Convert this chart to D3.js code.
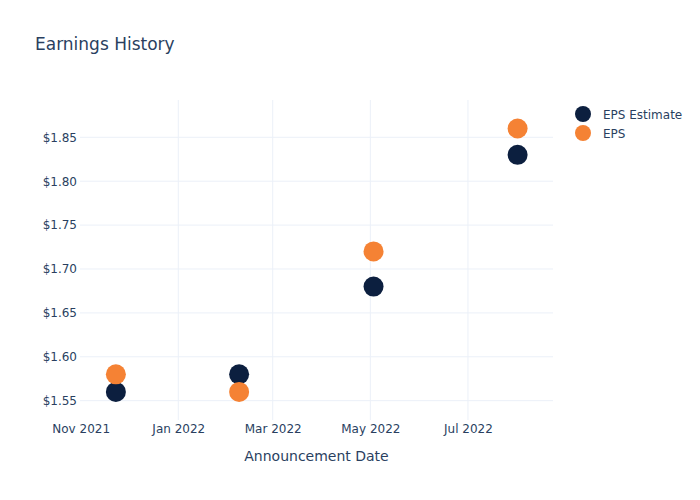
<!DOCTYPE html>
<html>
<head>
<meta charset="utf-8">
<script src="https://cdn.jsdelivr.net/npm/d3@7"></script>
<style>
  body { margin: 0; background: #fff; }
  svg text { font-family: "DejaVu Sans", Verdana, sans-serif; fill: #2a3f5f; }
</style>
</head>
<body>
<svg id="chart"></svg>
<script>
// data
const dates = ["2021-11-23", "2022-02-08", "2022-05-03", "2022-08-01"];
const epsEstimate = [1.56, 1.58, 1.68, 1.83];
const eps = [1.58, 1.56, 1.72, 1.86];
const yTicks = [1.55, 1.60, 1.65, 1.70, 1.75, 1.80, 1.85];
const xTicks = ["2021-11-01", "2022-01-01", "2022-03-01", "2022-05-01", "2022-07-01"];
const seriesNames = ["EPS Estimate", "EPS"];
const colors = ["#0c1f3f", "#f58234"];

const width = 700;
const height = 500;
const margin = {top: 100, right: 147, bottom: 80, left: 80};
const inWidth = width - margin.left - margin.right;
const inHeight = height - margin.top - margin.bottom;

const parse = d3.timeParse("%Y-%m-%d");

const svg = d3.select("#chart")
    .attr("width", width)
    .attr("height", height);

const g = svg.append("g")
    .attr("transform", `translate(${margin.left},${margin.top})`);

const x = d3.scaleTime()
    .domain([new Date(2021, 9, 31, 14), new Date(2022, 7, 23, 3)])
    .range([0, inWidth]);

const y = d3.scaleLinear()
    .domain([1.528, 1.8925])
    .range([inHeight, 0]);

// grid lines
g.selectAll(".ygrid")
    .data(yTicks)
    .enter().append("line")
    .attr("x1", 0)
    .attr("x2", inWidth)
    .attr("y1", d => y(d))
    .attr("y2", d => y(d))
    .attr("stroke", "#ebf0f8")
    .attr("stroke-width", 1);

g.selectAll(".xgrid")
    .data(xTicks.slice(1))
    .enter().append("line")
    .attr("x1", d => x(parse(d)))
    .attr("x2", d => x(parse(d)))
    .attr("y1", 0)
    .attr("y2", inHeight)
    .attr("stroke", "#ebf0f8")
    .attr("stroke-width", 1);

// axes
const xAxis = g.append("g")
    .attr("transform", `translate(0,${inHeight})`)
    .call(d3.axisBottom(x)
        .tickValues(xTicks.map(parse))
        .tickFormat(d3.timeFormat("%b %Y"))
        .tickSize(0)
        .tickPadding(4));
xAxis.select(".domain").remove();
xAxis.selectAll("text")
    .style("font-size", "12px")
    .attr("fill", "#2a3f5f");

const yAxis = g.append("g")
    .call(d3.axisLeft(y)
        .tickValues(yTicks)
        .tickFormat(d => "$" + d3.format(".2f")(d))
        .tickSize(0)
        .tickPadding(3));
yAxis.select(".domain").remove();
yAxis.selectAll("text")
    .style("font-size", "12px")
    .attr("fill", "#2a3f5f");

// markers
const series = [epsEstimate, eps];
series.forEach((vals, i) => {
    g.append("g")
        .selectAll("circle")
        .data(vals.map((v, j) => ({date: parse(dates[j]), value: v})))
        .enter().append("circle")
        .attr("cx", d => x(d.date))
        .attr("cy", d => y(d.value))
        .attr("r", 10)
        .attr("fill", colors[i]);
});

// title
svg.append("text")
    .attr("x", 35)
    .attr("y", 50)
    .style("font-size", "17px")
    .text("Earnings History");

// x-axis label
svg.append("text")
    .attr("x", margin.left + inWidth / 2)
    .attr("y", 461)
    .attr("text-anchor", "middle")
    .style("font-size", "14px")
    .text("Announcement Date");

// legend
const legend = svg.append("g")
    .attr("transform", "translate(583,114)");
seriesNames.forEach((name, i) => {
    const row = legend.append("g")
        .attr("transform", `translate(0,${i * 19})`);
    row.append("circle")
        .attr("r", 8)
        .attr("fill", colors[i]);
    row.append("text")
        .attr("x", 20)
        .attr("y", 4.5)
        .style("font-size", "12px")
        .text(name);
});
</script>
</body>
</html>
